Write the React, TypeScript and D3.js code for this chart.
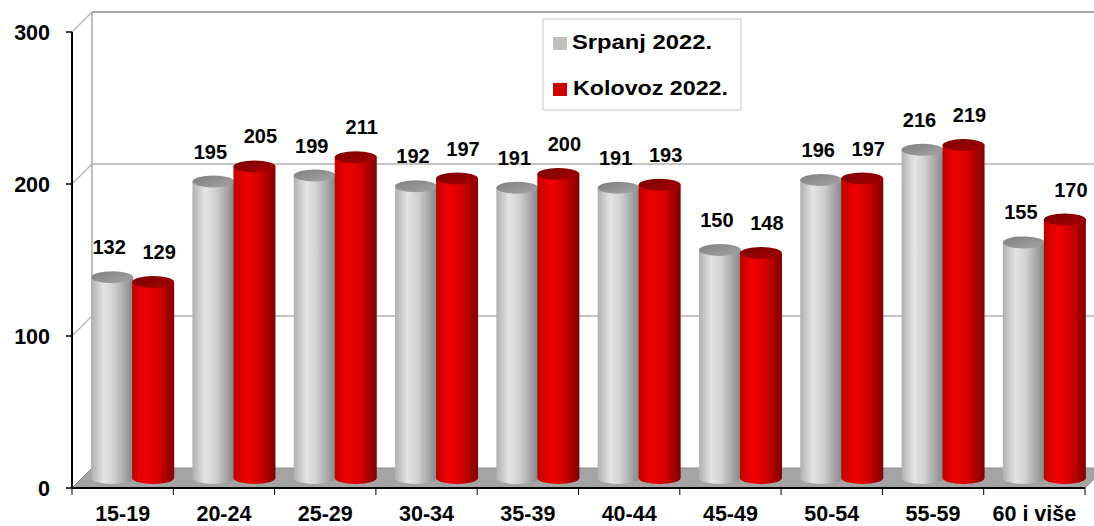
import React from "react";
import * as d3 from "d3";

const categories = ["15-19", "20-24", "25-29", "30-34", "35-39", "40-44", "45-49", "50-54", "55-59", "60 i više"];
const srpanj = [132, 195, 199, 192, 191, 191, 150, 196, 216, 155];
const kolovoz = [129, 205, 211, 197, 200, 193, 148, 197, 219, 170];
const seriesNames = ["Srpanj 2022.", "Kolovoz 2022."];
const yTicks = [0, 100, 200, 300];

const W = 1094;
const H = 526;
const FONT = "'Liberation Sans', Arial, Helvetica, sans-serif";

export default function App() {
  const left = 72, right = 1085, top = 32, bottom = 488;
  const DX = 20, DY = -20;
  const x = d3.scaleBand<string>().domain(categories).range([left, right]);
  const y = d3.scaleLinear().domain([0, 300]).range([bottom, top]);
  const bw = x.bandwidth();
  const r = 21, ry = 6, off = 20.5;

  const series = [srpanj, kolovoz];
  const bodyGrad = ["gGrey", "gRed"];
  const topGrad = ["gGreyTop", "gRedTop"];

  const cyl = (v: number, ci: number, si: number) => {
    const cx = (x(categories[ci]) as number) + bw / 2 + DX / 2 + (si === 0 ? -off : off);
    const ty = y(v) + DY / 2;
    const by = y(0) + DY / 2;
    const body = `M${cx - r},${ty} L${cx - r},${by} A${r} ${ry} 0 0 0 ${cx + r},${by} L${cx + r},${ty} Z`;
    return { cx, ty, by, body };
  };

  const boundaries = d3.range(categories.length + 1).map((i) => left + i * bw);

  return (
    <svg width={W} height={H} style={{ position: "absolute", left: 0, top: 0, background: "#fff" }} fontFamily={FONT}>
      <defs>
        <linearGradient id="gGrey" x1="0" x2="1" y1="0" y2="0">
          <stop offset="0" stopColor="#b0b0b0" />
          <stop offset="0.3" stopColor="#e4e4e4" />
          <stop offset="0.55" stopColor="#d0d0d0" />
          <stop offset="1" stopColor="#868686" />
        </linearGradient>
        <linearGradient id="gGreyTop" x1="0" x2="1" y1="0" y2="1">
          <stop offset="0" stopColor="#808080" />
          <stop offset="1" stopColor="#a4a4a4" />
        </linearGradient>
        <linearGradient id="gRed" x1="0" x2="1" y1="0" y2="0">
          <stop offset="0" stopColor="#c00000" />
          <stop offset="0.3" stopColor="#f00000" />
          <stop offset="0.6" stopColor="#d80000" />
          <stop offset="1" stopColor="#7e0000" />
        </linearGradient>
        <linearGradient id="gRedTop" x1="0" x2="1" y1="0" y2="1">
          <stop offset="0" stopColor="#7a0000" />
          <stop offset="1" stopColor="#a80000" />
        </linearGradient>
      </defs>

      {/* floor */}
      <polygon
        points={`${left},${bottom} ${left + DX},${bottom + DY} ${right + DX},${bottom + DY} ${right},${bottom}`}
        fill="#a4a4a4"
        stroke="#8c8c8c"
        strokeWidth={1}
      />

      {/* back wall gridlines */}
      {yTicks.filter((t) => t > 0).map((t) => (
        <g key={t}>
          <line x1={left + DX} x2={right + DX} y1={y(t) + DY} y2={y(t) + DY} stroke={t === 300 ? "#a8a8a8" : "#c4c4c4"} strokeWidth={2} />
          <line x1={left} x2={left + DX} y1={y(t)} y2={y(t) + DY} stroke="#b8b8b8" strokeWidth={1.5} />
        </g>
      ))}
      <line x1={left + DX} x2={left + DX} y1={y(300) + DY} y2={y(0) + DY} stroke="#a8a8a8" strokeWidth={1.5} />

      {/* cylinders */}
      {categories.map((c, ci) => (
        <g key={c}>
          {series.map((s, si) => {
            const g = cyl(s[ci], ci, si);
            return (
              <g key={si}>
                <path d={g.body} fill={`url(#${bodyGrad[si]})`} />
                <ellipse cx={g.cx} cy={g.ty} rx={r} ry={ry} fill={`url(#${topGrad[si]})`} />
              </g>
            );
          })}
        </g>
      ))}

      {/* value labels */}
      {categories.map((c, ci) =>
        series.map((s, si) => {
          const g = cyl(s[ci], ci, si);
          return (
            <text key={`${c}-${si}`} x={g.cx + (si === 0 ? -3 : 6)} y={g.ty - 23} textAnchor="middle" fontSize={20} fontWeight="bold" fill="#000">
              {s[ci]}
            </text>
          );
        })
      )}

      {/* y axis */}
      <line x1={left} x2={left} y1={top} y2={bottom} stroke="#000" strokeWidth={2} />
      {yTicks.map((t) => (
        <g key={t}>
          <line x1={left - 6} x2={left} y1={y(t)} y2={y(t)} stroke="#000" strokeWidth={1.5} />
          <text x={50} y={y(t) + 7.5} textAnchor="end" fontSize={21.5} fontWeight="bold">{t}</text>
        </g>
      ))}

      {/* x axis */}
      <line x1={left} x2={right} y1={bottom} y2={bottom} stroke="#000" strokeWidth={2} />
      <line x1={right} x2={right + DX} y1={bottom} y2={bottom + DY} stroke="#8c8c8c" strokeWidth={1} />
      {boundaries.map((bx, i) => (
        <line key={i} x1={bx} x2={bx} y1={bottom} y2={bottom + 7} stroke="#000" strokeWidth={1} />
      ))}
      {categories.map((c) => (
        <text key={c} x={(x(c) as number) + bw / 2} y={520.5} textAnchor="middle" fontSize={21.5} fontWeight="bold">{c}</text>
      ))}

      {/* legend */}
      <rect x={543} y={19} width={198} height={91} fill="#fff" stroke="#c8c8c8" strokeWidth={1} />
      <rect x={553} y={37} width={14} height={13} fill="#c0c0c0" />
      <text x={572} y={49} fontSize={20} fontWeight="bold" textLength={140} lengthAdjust="spacingAndGlyphs">{seriesNames[0]}</text>
      <rect x={553} y={83} width={14} height={13} fill="#cc0000" />
      <text x={573} y={95} fontSize={20.5} fontWeight="bold" textLength={155} lengthAdjust="spacingAndGlyphs">{seriesNames[1]}</text>
    </svg>
  );
}
